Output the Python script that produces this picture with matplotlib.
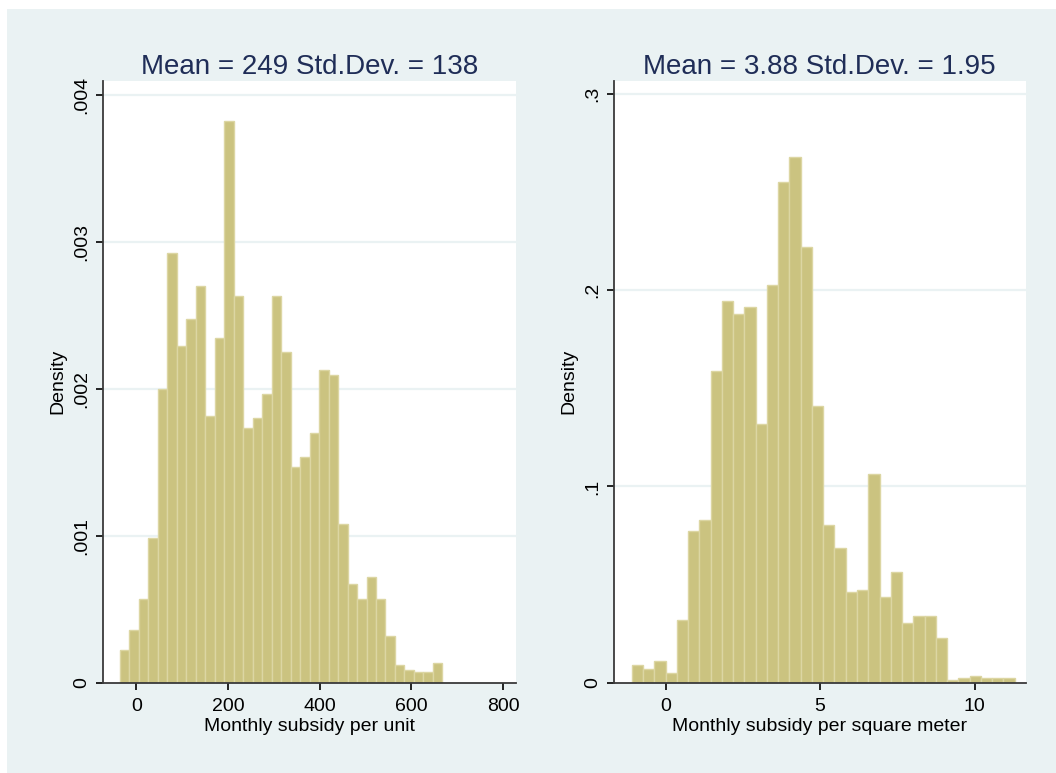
import numpy as np
import matplotlib
matplotlib.use("Agg")
import matplotlib.pyplot as plt
from matplotlib.patches import Rectangle

plt.rcParams['font.family'] = ['Liberation Sans', 'DejaVu Sans']

# left panel: monthly subsidy per unit
unit_start = -35.3
unit_width = 20.67
unit_density = [0.000220, 0.000355, 0.000570, 0.000987, 0.002000, 0.002925,
                0.002293, 0.002476, 0.002696, 0.001815, 0.002347, 0.003823,
                0.002629, 0.001734, 0.001798, 0.001962, 0.002629, 0.002247,
                0.001465, 0.001532, 0.001699, 0.002126, 0.002095, 0.001080,
                0.000668, 0.000567, 0.000717, 0.000567, 0.000317, 0.000118,
                0.000084, 0.000070, 0.000070, 0.000136]
unit_xticks = [0, 200, 400, 600, 800]
unit_yticks = [0, 0.001, 0.002, 0.003, 0.004]
unit_ylabels = ["0", ".001", ".002", ".003", ".004"]
unit_title = "Mean = 249 Std.Dev. = 138"
unit_xlabel = "Monthly subsidy per unit"

# right panel: monthly subsidy per square meter
sqm_start = -1.10
sqm_width = 0.3647
sqm_density = [0.0087, 0.0069, 0.0108, 0.0050, 0.0321, 0.0771, 0.0827,
               0.1589, 0.1944, 0.1878, 0.1917, 0.1316, 0.2028, 0.2554,
               0.2682, 0.2219, 0.1409, 0.0801, 0.0688, 0.0462, 0.0472,
               0.1061, 0.0435, 0.0565, 0.0301, 0.0341, 0.0341, 0.0228,
               0.0012, 0.0022, 0.0032, 0.0022, 0.0022, 0.0022]
sqm_xticks = [0, 5, 10]
sqm_yticks = [0, 0.1, 0.2, 0.3]
sqm_ylabels = ["0", ".1", ".2", ".3"]
sqm_title = "Mean = 3.88 Std.Dev. = 1.95"
sqm_xlabel = "Monthly subsidy per square meter"

bg = '#EAF2F3'
bar_face = '#CBC380'
bar_edge = '#DCD6A3'
title_col = '#1F2D57'
axis_col = '#3A3A3A'

W, H = 1056, 773
fig = plt.figure(figsize=(W / 100, H / 100), dpi=100)
fig.patch.set_facecolor('white')
fig.patches.append(Rectangle((7 / W, 0), 1, (H - 9) / H, transform=fig.transFigure,
                             facecolor=bg, edgecolor='none', zorder=-10))


def px_axes(x0, x1, y0, y1):
    # y0 = top pixel, y1 = bottom pixel
    return fig.add_axes([x0 / W, (H - y1) / H, (x1 - x0) / W, (y1 - y0) / H])


def draw_hist(ax, start, width, dens, xticks, xlim, yticks, ylabels, ylim, title, xlabel):
    edges = start + width * np.arange(len(dens))
    ax.bar(edges, dens, width=width, align='edge', color=bar_face,
           edgecolor=bar_edge, linewidth=1.0, zorder=3)
    ax.set_facecolor('white')
    ax.set_xlim(*xlim)
    ax.set_ylim(*ylim)
    ax.set_xticks(xticks)
    ax.set_yticks(yticks)
    ax.set_yticklabels(ylabels, rotation=90, va='center')
    for y in yticks[1:]:
        ax.axhline(y, color=bg, linewidth=1.6, zorder=1)
    for s in ['top', 'right']:
        ax.spines[s].set_visible(False)
    for s in ['left', 'bottom']:
        ax.spines[s].set_color(axis_col)
        ax.spines[s].set_linewidth(1.3)
        ax.spines[s].set_zorder(5)
    ax.tick_params(axis='both', direction='out', length=5, width=1.2,
                   color='black', labelsize=14)
    ax.tick_params(axis='x', pad=6)
    ax.tick_params(axis='y', pad=4)
    ax.set_title(title, fontsize=20, color=title_col, pad=5)
    ax.set_xlabel(xlabel, fontsize=14, labelpad=2)
    ax.set_ylabel("Density", fontsize=14, labelpad=5)


ax1 = px_axes(103, 516, 81, 682.5)
draw_hist(ax1, unit_start, unit_width, unit_density, unit_xticks, (-72.4, 828),
          unit_yticks, unit_ylabels, (0, 0.004095), unit_title, unit_xlabel)

ax2 = px_axes(614, 1025.5, 81, 682.5)
draw_hist(ax2, sqm_start, sqm_width, sqm_density, sqm_xticks, (-1.675, 11.65),
          sqm_yticks, sqm_ylabels, (0, 0.3067), sqm_title, sqm_xlabel)

fig.savefig("out.png", dpi=100, facecolor=fig.get_facecolor())
